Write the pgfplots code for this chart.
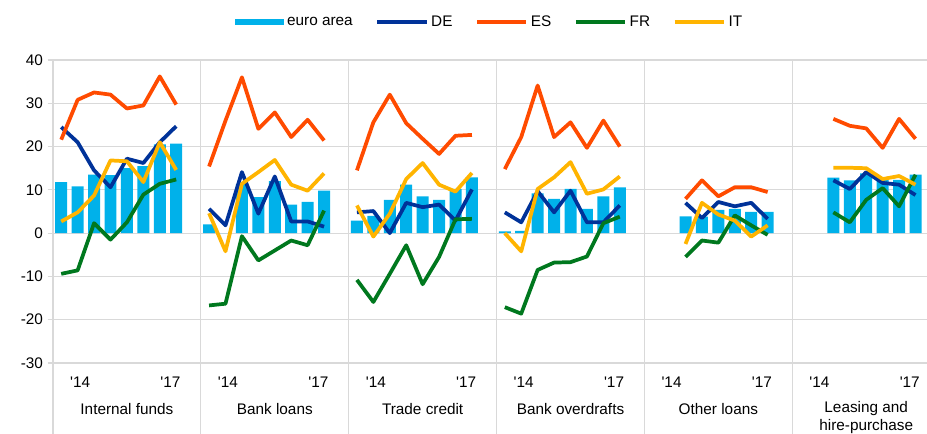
\documentclass[border=0pt]{standalone}
\usepackage{fontspec}
\setmainfont{Liberation Sans}
\usepackage{pgfplots}
\pgfplotsset{compat=1.18}
\usepackage{pgfplotstable}

\definecolor{EAcol}{RGB}{0,177,234}
\definecolor{DEcol}{RGB}{0,50,153}
\definecolor{EScol}{RGB}{255,75,0}
\definecolor{FRcol}{RGB}{0,120,30}
\definecolor{ITcol}{RGB}{255,180,0}
\definecolor{gridcol}{RGB}{217,217,217}
\newcommand\lf{\fontsize{11.5}{13.8}\selectfont}

% x: slot index, 9 slots per panel (last slot of each panel left empty)
\pgfplotstableread{
x  ea    de    es    fr     it
0  11.8  24.5  21.6  -9.4   2.7
1  10.8  21.0  30.8  -8.6   4.8
2  13.5  14.5  32.5   2.3   8.7
3  13.4  10.6  32.0  -1.5  16.8
4  15.0  17.2  28.8   2.5  16.6
5  15.5  16.2  29.5   8.9  11.8
6  20.5  21.0  36.2  11.4  21.0
7  20.7  24.7  29.7  12.4  14.6
8  nan   nan   nan   nan    nan
9   2.0   5.6  15.4 -16.7   4.6
10  0.0   1.8  26.0 -16.3  -4.2
11 11.4  14.1  36.0  -0.7  11.4
12  8.3   4.5  24.1  -6.3  14.1
13 12.0  13.1  27.9  -4.0  16.9
14  6.6   2.7  22.2  -1.7  11.2
15  7.2   2.7  26.2  -2.8   9.8
16  9.8   1.5  21.4   5.2  13.8
17 nan   nan   nan   nan    nan
18  2.9   4.8  14.5 -10.8   6.4
19  4.0   5.1  25.6 -15.9  -0.8
20  7.7   0.0  32.0  -9.4   4.5
21 11.2   7.0  25.4  -2.8  12.5
22  8.5   6.0  21.8 -11.8  16.2
23  7.7   6.6  18.3  -5.5  11.2
24 10.2   2.9  22.5   3.2   9.6
25 12.9  10.1  22.7   3.3  13.9
26 nan   nan   nan   nan    nan
27  0.4   4.8  14.8 -17.1   0.0
28  0.5   2.5  22.2 -18.6  -4.2
29  9.2   9.7  34.1  -8.5  10.2
30  7.9   4.8  22.2  -6.8  12.9
31 10.2   9.8  25.6  -6.7  16.4
32  5.6   2.5  19.7  -5.4   9.1
33  8.5   2.5  26.0   2.3  10.1
34 10.6   6.4  20.0   3.8  13.1
35 nan   nan   nan   nan    nan
38  3.9   7.0   7.9  -5.5  -2.5
39  3.8   3.5  12.2  -1.7   7.0
40  5.4   7.2   8.5  -2.2   4.3
41  5.6   6.2  10.6   4.1   2.9
42  4.9   7.0  10.6   1.8  -0.8
43  4.9   3.3   9.5  -0.4   1.8
44 nan   nan   nan   nan    nan
47 12.8  12.2  26.4   4.8  15.1
48 12.2  10.2  24.8   2.5  15.1
49 13.8  14.1  24.2   7.7  15.0
50 12.5  11.6  19.7  10.4  12.5
51 12.3  11.2  26.4   6.2  13.2
52 13.5   8.8  21.8  13.5  11.2
}\data

\begin{document}
\begin{tikzpicture}
\begin{axis}[
  scale only axis,
  width=655.5pt, height=227.25pt,
  xmin=-0.5, xmax=52.7,
  ymin=-30, ymax=40,
  ytick={-30,-20,...,40},
  xtick=\empty,
  axis line style={draw=none},
  ymajorgrids,
  grid style={draw=gridcol, line width=0.9pt},
  tick align=outside,
  major tick length=4pt,
  ytick style={draw=gridcol, line width=0.9pt},
  yticklabel style={font=\lf, color=black, /pgf/number format/assume math mode=true},
  yticklabel={\pgfmathprintnumber[assume math mode=true]{\tick}},
  clip=false,
  legend columns=-1,
  legend style={at={(0.5,1)}, anchor=center, yshift=28.5pt, draw=none,
    font=\lf, inner sep=0pt,
    /tikz/every even column/.append style={column sep=15pt}},
  legend image code/.code={\draw[#1, line cap=butt] (0pt,0pt) -- (37pt,0pt);},
  every axis plot/.append style={line width=2.8pt, line join=round},
]
\coordinate (bl) at (rel axis cs:0,0);
\coordinate (tr) at (rel axis cs:1,1);
\pgfplotsinvokeforeach{-0.5,8.5,17.5,26.5,35.5,44.5}{
  \draw[gridcol, line width=0.9pt] (axis cs:#1,40) -- ([yshift=-53.25pt]axis cs:#1,-30);
}
\addplot[ybar, bar width=0.73, fill=EAcol, draw=none,
  legend image code/.code={\fill[EAcol] (0pt,-2.4pt) rectangle (37pt,2.4pt);}]
  table[x=x, y=ea] {\data};
\addlegendentry{euro area}
\addplot[DEcol, unbounded coords=jump] table[x=x, y=de] {\data};
\addlegendentry{DE}
\addplot[EScol, unbounded coords=jump] table[x=x, y=es] {\data};
\addlegendentry{ES}
\addplot[FRcol, unbounded coords=jump] table[x=x, y=fr] {\data};
\addlegendentry{FR}
\addplot[ITcol, unbounded coords=jump] table[x=x, y=it] {\data};
\addlegendentry{IT}

\pgfplotsinvokeforeach{1.15,10.15,19.15,28.15,37.15,46.15}{
  \node[anchor=base, font=\lf, inner sep=0pt] at ([yshift=-18.75pt]axis cs:#1,-30) {\textquotesingle14};
}
\pgfplotsinvokeforeach{6.65,15.65,24.65,33.65,42.65,51.65}{
  \node[anchor=base, font=\lf, inner sep=0pt] at ([yshift=-18.75pt]axis cs:#1,-30) {\textquotesingle17};
}
\node[anchor=base, font=\lf, inner sep=0pt] at ([yshift=-38.5pt]axis cs:4,-30) {Internal funds};
\node[anchor=base, font=\lf, inner sep=0pt] at ([yshift=-38.5pt]axis cs:13,-30) {Bank loans};
\node[anchor=base, font=\lf, inner sep=0pt] at ([yshift=-38.5pt]axis cs:22,-30) {Trade credit};
\node[anchor=base, font=\lf, inner sep=0pt] at ([yshift=-38.5pt]axis cs:31,-30) {Bank overdrafts};
\node[anchor=base, font=\lf, inner sep=0pt] at ([yshift=-38.5pt]axis cs:40,-30) {Other loans};
\node[anchor=base, font=\lf, inner sep=0pt] at ([yshift=-37.5pt]axis cs:49,-30) {Leasing and};
\node[anchor=base, font=\lf, inner sep=0pt] at ([yshift=-50.5pt]axis cs:49,-30) {hire-purchase};
\end{axis}
\pgfresetboundingbox
\path ([xshift=-39.75pt,yshift=-53.25pt]bl) rectangle ([yshift=45pt]tr);
\end{tikzpicture}
\end{document}
